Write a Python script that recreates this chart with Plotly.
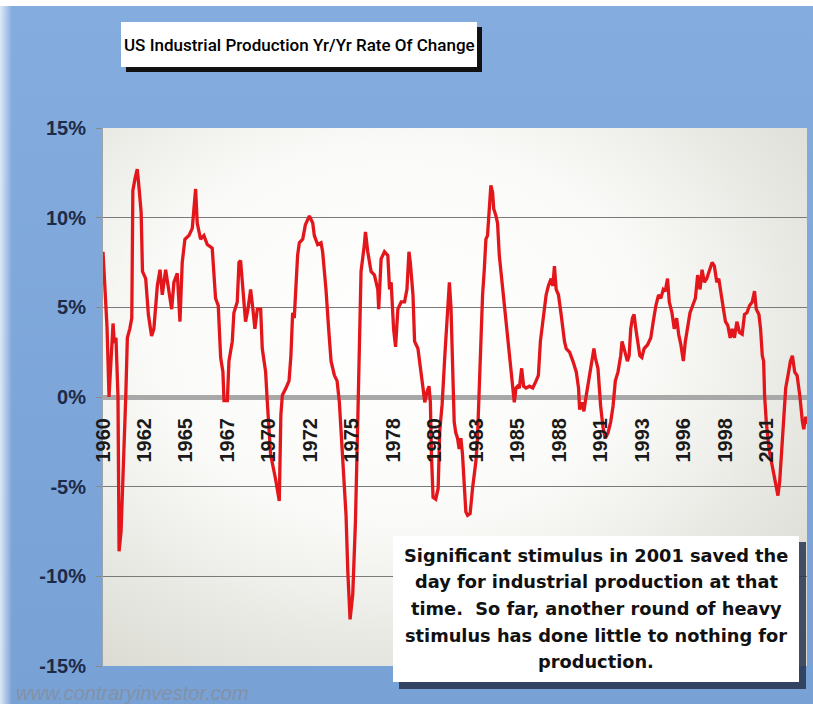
import base64
import plotly.graph_objects as go

# ---------------- data ----------------
# x: months since January 1960 ; y: year-over-year change of US industrial production, %
months_since_jan_1960 = [
    0, 1.5, 3.0, 4.5, 5.5, 7.5, 8.5, 9.7, 11.2, 12.0, 13.5, 15.7, 17.0, 18.2, 20.0, 21.5,
    22.3, 24.0, 25.6, 27.0, 28.5, 29.5, 31.9, 33.9, 36.3, 38.0, 40.6, 42.6, 44.3, 46.8,
    49.3, 51.3, 53.0, 55.5, 57.5, 59.2, 61.2, 64.2, 66.7, 69.2, 70.4, 72.9, 75.4, 77.9,
    81.6, 84.1, 86.1, 87.9, 89.6, 90.4, 92.9, 94.1, 96.6, 97.8, 100.3, 101.6, 102.8,
    104.6, 106.5, 108.3, 110.3, 112.0, 113.5, 115.3, 117.8, 119.0, 121.5, 122.7, 125.2,
    129.0, 131.7,
    132.9, 134.0, 136.7, 139.0, 140.4, 141.7, 142.9, 144.2, 145.4, 146.7, 149.2, 151.2,
    154.2, 156.7, 157.9, 160.4, 162.9, 164.1, 166.6, 168.6, 170.4, 172.9, 174.9, 176.6,
    179.1, 181.6, 182.9, 184.6, 186.6, 188.6, 190.3, 191.6, 192.8, 195.3, 196.1, 197.8,
    200.3, 202.8, 205.3, 206.0, 207.8, 210.3, 212.8, 214.1, 215.3, 217.1, 218.6, 220.3,
    222.8, 225.3, 227.1, 228.6, 229.6, 231.6, 232.8, 235.3, 237.8, 239.1, 240.4, 242.1,
    243.6, 244.6, 245.4, 246.6, 248.6, 250.4, 251.6, 253.4, 255.4, 256.6, 257.9, 258.8,
    260.0, 261.1, 262.4, 263.6, 264.9, 266.1, 267.4, 268.6, 269.9, 271.1, 272.4, 274.3,
    276.1, 278.6, 279.8, 281.1, 282.3, 283.6, 284.8, 286.1, 287.3, 288.6, 289.8, 291.1,
    291.9, 293.6, 294.8, 296.1, 298.6, 301.1, 303.6, 306.1, 307.3, 308.6, 309.8, 311.1,
    312.8, 314.3, 316.1, 318.6, 321.1, 323.6, 325.3, 326.8, 328.6, 331.1, 332.8, 334.8,
    336.1, 337.3, 338.6, 340.3, 342.3, 344.8, 346.1, 348.6, 351.1, 353.6, 355.3, 356.1,
    357.8, 359.3, 361.1, 362.8, 364.8, 366.8, 367.8, 369.8, 371.8, 373.6, 375.3, 377.3,
    379.3, 381.1, 382.8, 384.8, 386.8, 387.8, 389.3,
    391.8, 393.1, 394.3, 395.6, 396.8, 398.1, 399.3, 401.1, 402.6, 404.3, 406.8, 409.3,
    411.1, 413.1, 415.1, 416.8, 418.6, 420.1, 421.8, 423.1, 425.1, 426.8, 428.6, 430.1,
    431.8, 433.6, 435.1, 436.8, 438.6, 440.6, 442.6, 444.3, 446.1, 447.6, 449.3, 451.1,
    453.1, 455.1, 456.8, 458.6, 460.1, 461.8, 463.6, 465.1, 466.8, 468.6, 470.1, 471.8,
    473.6, 475.6, 477.6, 479.3, 481.1, 483.1, 485.1, 486.8, 488.1, 490.1, 491.3, 492.6,
    493.6, 494.3, 495.6, 497.6, 499.3, 501.1, 502.6, 504.3, 505.6, 506.8, 508.1, 510.1,
    511.8, 513.6, 515.1, 516.8, 518.6, 520.6, 522.6, 523.6, 525.1, 526.0,
]
yoy_change_pct = [
    8.1, 5.5, 3.9, 0.0, 1.5, 4.1, 3.0, 3.3, 0.0, -8.6, -7.5, -3.2, 0.0, 3.3, 3.8, 4.4,
    11.5, 12.2, 12.7, 11.6, 10.3, 7.0, 6.6, 4.6, 3.4, 3.8, 6.2, 7.1, 5.7, 7.1,
    6.0, 4.9, 6.4, 6.9, 4.2, 7.5, 8.8, 9.0, 9.4, 11.6, 9.7, 8.8, 9.0, 8.5,
    8.3, 5.5, 5.1, 2.2, 1.4, -0.2, -0.2, 2.0, 3.1, 4.7, 5.3, 7.5, 7.6,
    5.7, 4.2, 4.9, 6.0, 4.9, 3.8, 4.9, 4.9, 2.7, 1.4, -0.2, -3.2,
    -4.6, -5.8,
    -1.0, 0.1, 0.5, 0.9, 2.3, 4.7, 4.4, 5.9, 7.9, 8.6, 8.8, 9.6,
    10.1, 9.7, 9.0, 8.5, 8.6, 8.1, 6.0, 3.8, 2.0, 1.2, 0.9, -0.3,
    -3.2, -6.6, -9.7, -12.4, -11.0, -7.0, -1.5, 3.8, 7.0, 8.5, 9.2, 8.1,
    7.0, 6.8, 6.0, 4.9, 7.7, 8.1, 7.9, 6.0, 6.4, 3.8, 2.8, 4.9,
    5.3, 5.3, 6.0, 8.1, 7.5, 5.7, 3.1, 2.7, 1.4, 0.5, -0.3, 0.3,
    0.6, -0.3, -3.2, -5.6, -5.7, -5.1, -1.9, -0.4, 2.3, 3.8, 5.7, 6.4,
    5.0, 2.3, -1.4, -2.0, -2.3, -2.9, -2.3, -3.2, -5.1, -6.4, -6.6, -6.5,
    -5.1, -3.6, -2.3, 0.5, 2.3, 5.7, 7.0, 8.8, 9.0, 10.7, 11.8, 11.4,
    10.5, 10.1, 9.7, 7.9, 6.0, 4.2, 2.3, 0.6, -0.3, 0.5, 0.6, 0.5,
    1.6, 0.6, 0.5, 0.6, 0.5, 0.9, 1.2, 3.1, 4.2, 5.7, 6.2, 6.6,
    6.2, 7.3, 6.0, 5.7, 4.6, 3.1, 2.7, 2.5, 2.0, 1.4, 0.5, -0.7,
    -0.3, -0.8, 0.1, 0.9, 1.6, 2.7, 2.2, 1.6, -0.5, -1.7, -2.3, -2.0,
    -1.4, -0.5, 0.9, 1.4, 2.3, 3.1, 2.7,
    2.0, 2.3, 3.8, 4.4, 4.6, 3.8, 3.1, 2.3, 2.2, 2.7, 2.9, 3.3,
    4.2, 5.1, 5.7, 5.5, 6.0, 5.9, 6.6, 5.3, 4.7, 3.8, 4.4, 3.5,
    2.9, 2.0, 3.1, 3.8, 4.7, 5.1, 5.5, 6.8, 6.0, 7.1, 6.4, 6.6,
    7.1, 7.5, 7.3, 6.4, 6.6, 5.9, 4.9, 4.2, 4.0, 3.3, 3.8, 3.3,
    4.2, 3.6, 3.5, 4.6, 4.7, 5.1, 5.3, 5.9, 4.9, 4.6, 3.8, 2.3,
    2.0, 0.1, -1.4, -2.9, -3.6, -4.4, -4.9, -5.5, -4.7, -3.2, -1.4, 0.5,
    1.2, 2.0, 2.3, 1.4, 1.2, 0.1, -1.4, -1.8, -1.1, -1.5,
]

tick_months = [0, 31, 62, 93, 124, 155, 186, 217, 248, 279, 310, 341, 372, 403, 434, 465, 496]
tick_years = ["1960", "1962", "1965", "1967", "1970", "1972", "1975", "1978", "1980",
              "1983", "1985", "1988", "1991", "1993", "1996", "1998", "2001"]
y_ticks = [-15, -10, -5, 0, 5, 10, 15]
y_tick_labels = ["-15%", "-10%", "-5%", "0%", "5%", "10%", "15%"]

title_text = "US Industrial Production Yr/Yr Rate Of Change"
note_lines = [
    "Significant stimulus in 2001 saved the",
    "day for industrial production at that",
    "time.  So far, another round of heavy",
    "stimulus has done little to nothing for",
    "production.",
]
source_text = "www.contraryinvestor.com"

# ---------------- geometry helpers (pixel -> paper) ----------------
W, H = 813, 704
L, R, T, B = 103, 6, 128, 38
PW, PH = W - L - R, H - T - B


def px(x):
    return (x - L) / PW


def py(y):
    return (H - B - y) / PH


def svg_uri(svg):
    return "data:image/svg+xml;base64," + base64.b64encode(svg.encode()).decode()


paper_svg = f"""<svg xmlns='http://www.w3.org/2000/svg' width='{W}' height='{H}' viewBox='0 0 {W} {H}'>
<defs>
<linearGradient id='b' x1='0' y1='0' x2='0' y2='1'>
<stop offset='0' stop-color='#84ACDE'/><stop offset='1' stop-color='#78A1D6'/>
</linearGradient>
<linearGradient id='l' x1='0' y1='0' x2='1' y2='0'>
<stop offset='0' stop-color='#E8F0FA' stop-opacity='0.9'/><stop offset='1' stop-color='#E8F0FA' stop-opacity='0'/>
</linearGradient>
</defs>
<rect width='{W}' height='{H}' fill='#FFFFFF'/>
<rect y='6' width='{W}' height='{H - 6}' fill='url(#b)'/>
<rect y='6' width='12' height='{H - 6}' fill='url(#l)'/>
</svg>"""

plot_svg = f"""<svg xmlns='http://www.w3.org/2000/svg' width='{PW}' height='{PH}' viewBox='0 0 {PW} {PH}' preserveAspectRatio='none'>
<defs>
<radialGradient id='p' cx='0.42' cy='0.38' r='0.78'>
<stop offset='0' stop-color='#FFFFFF'/><stop offset='0.45' stop-color='#FAFAF8'/><stop offset='1' stop-color='#D9D9D1'/>
</radialGradient>
</defs>
<rect width='{PW}' height='{PH}' fill='url(#p)'/>
</svg>"""

fig = go.Figure()
fig.add_trace(go.Scatter(
    x=months_since_jan_1960, y=yoy_change_pct, mode="lines",
    line=dict(color="#E3171B", width=3.3), hoverinfo="skip", showlegend=False,
))

fig.update_layout(
    width=W, height=H,
    margin=dict(l=L, r=R, t=T, b=B, pad=0),
    paper_bgcolor="#FFFFFF",
    plot_bgcolor="rgba(0,0,0,0)",
    showlegend=False,
    images=[
        dict(source=svg_uri(paper_svg), xref="paper", yref="paper",
             x=px(0), y=py(0), sizex=W / PW, sizey=H / PH,
             xanchor="left", yanchor="top", sizing="stretch", layer="below"),
        dict(source=svg_uri(plot_svg), xref="paper", yref="paper",
             x=0, y=1, sizex=1, sizey=1,
             xanchor="left", yanchor="top", sizing="stretch", layer="below"),
    ],
    xaxis=dict(
        range=[0, 526], tickmode="array", tickvals=tick_months, ticktext=tick_years,
        tickangle=-90, showgrid=False, zeroline=False, showline=False,
        anchor="free", position=0.5, ticks="", ticklabelstandoff=16,
        tickfont=dict(family="Liberation Sans, Arial, sans-serif", size=20,
                      color="#1A1A1A", weight="bold"),
    ),
    yaxis=dict(
        range=[-15, 15], tickmode="array", tickvals=y_ticks, ticktext=y_tick_labels,
        showgrid=True, gridcolor="#7A7A7A", gridwidth=1,
        zeroline=True, zerolinecolor="#A8A8A8", zerolinewidth=5,
        ticks="outside", ticklen=6, tickcolor="#8A8A8A", ticklabelstandoff=6,
        showline=True, linecolor="#9CA3AB", linewidth=1,
        tickfont=dict(family="Liberation Sans, Arial, sans-serif", size=20,
                      color="#1D2A48", weight="bold"),
    ),
)

shapes = [
    # title box shadow + box
    dict(type="rect", xref="paper", yref="paper", x0=px(126), x1=px(482), y0=py(72), y1=py(27),
         fillcolor="#111111", line=dict(width=0)),
    dict(type="rect", xref="paper", yref="paper", x0=px(121), x1=px(477), y0=py(67), y1=py(22),
         fillcolor="#FFFFFF", line=dict(width=0)),
    # note box shadow + box
    dict(type="rect", xref="paper", yref="paper", x0=px(399), x1=px(806), y0=py(689), y1=py(542),
         fillcolor="rgba(38,52,78,0.85)", line=dict(width=0)),
    dict(type="rect", xref="paper", yref="paper", x0=px(393), x1=px(799), y0=py(682), y1=py(536),
         fillcolor="#FFFFFF", line=dict(width=0)),
]
fig.update_layout(shapes=shapes)

annotations = [
    dict(text=title_text, xref="paper", yref="paper", x=px(299), y=py(45),
         xanchor="center", yanchor="middle", showarrow=False,
         font=dict(family="Roboto, Liberation Sans, sans-serif",
                   size=17, color="#000000", weight=500)),
    dict(text=source_text, xref="paper", yref="paper", x=px(14), y=py(693),
         xanchor="left", yanchor="middle", showarrow=False,
         font=dict(family="Liberation Sans, Arial, sans-serif", size=20,
                   color="#8391A6", style="italic")),
]
line_centers = [555, 581.7, 608.4, 635.1, 661.8]
for txt, yc in zip(note_lines, line_centers):
    annotations.append(dict(
        text=txt, xref="paper", yref="paper", x=px(596), y=py(yc),
        xanchor="center", yanchor="middle", showarrow=False,
        font=dict(family="DejaVu Sans, Verdana, sans-serif", size=17.8,
                  color="#111111", weight="bold"),
    ))
fig.update_layout(annotations=annotations)

fig.write_html("out.html")
